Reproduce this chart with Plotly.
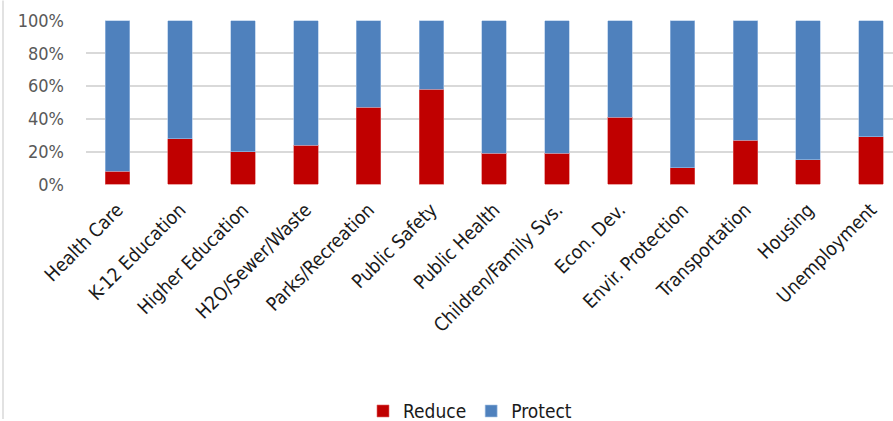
import plotly.graph_objects as go

categories = ["Health Care", "K-12 Education", "Higher Education", "H2O/Sewer/Waste",
              "Parks/Recreation", "Public Safety", "Public Health", "Children/Family Svs.",
              "Econ. Dev.", "Envir. Protection", "Transportation", "Housing", "Unemployment"]
reduce_vals = [8, 28, 20, 24, 47, 58, 19, 19, 41, 10, 27, 15, 29]
protect_vals = [100 - v for v in reduce_vals]
y_ticks = [0, 20, 40, 60, 80, 100]
y_tick_labels = ["0%", "20%", "40%", "60%", "80%", "100%"]

FONT = "DejaVu Sans Condensed, Roboto, sans-serif"

W, H = 893, 421
ML, MT, MB = 86, 19.5, 235.5
PW, PH = W - ML, H - MT - MB

fig = go.Figure()
fig.add_trace(go.Bar(x=categories, y=reduce_vals, name="Reduce",
                     marker=dict(color="#C00000", line=dict(color="#E06666", width=0.6)),
                     width=0.39))
fig.add_trace(go.Bar(x=categories, y=protect_vals, name="Protect",
                     marker=dict(color="#4F81BD", line=dict(color="#A9C4E6", width=0.6)),
                     width=0.39))

fig.update_layout(
    barmode="stack",
    width=W, height=H,
    margin=dict(l=ML, r=0, t=MT, b=MB, autoexpand=False),
    plot_bgcolor="white", paper_bgcolor="white",
    font=dict(family=FONT, color="#595959"),
    showlegend=True,
    legend=dict(orientation="h", x=(470 - ML) / PW, xanchor="center",
                y=-(413 - (MT + PH)) / PH, yanchor="middle",
                font=dict(size=19, color="#1a1a1a", family=FONT), traceorder="normal",
                itemwidth=30),
    xaxis=dict(range=[-0.5, 12.35], tickangle=-45, showgrid=False, automargin=False,
               tickfont=dict(size=19, color="#1a1a1a", family=FONT),
               showline=False, ticks="", ticklabelstandoff=9),
    yaxis=dict(range=[-0.4, 100.4], tickvals=y_ticks, ticktext=y_tick_labels, automargin=False,
               showgrid=True, gridcolor="#D9D9D9", gridwidth=1.5,
               zeroline=False, tickfont=dict(size=18, color="#595959", family=FONT),
               ticks="", ticklabelstandoff=21),
    shapes=[dict(type="line", xref="paper", yref="paper", x0=-(ML - 3) / PW, x1=-(ML - 3) / PW,
                 y0=-MB / PH, y1=1 + MT / PH, line=dict(color="#D9D9D9", width=1.5))],
    bargap=0.6,
)

fig.write_html("out.html", config={"displayModeBar": False},
               post_script="document.body.style.margin='0px';")
